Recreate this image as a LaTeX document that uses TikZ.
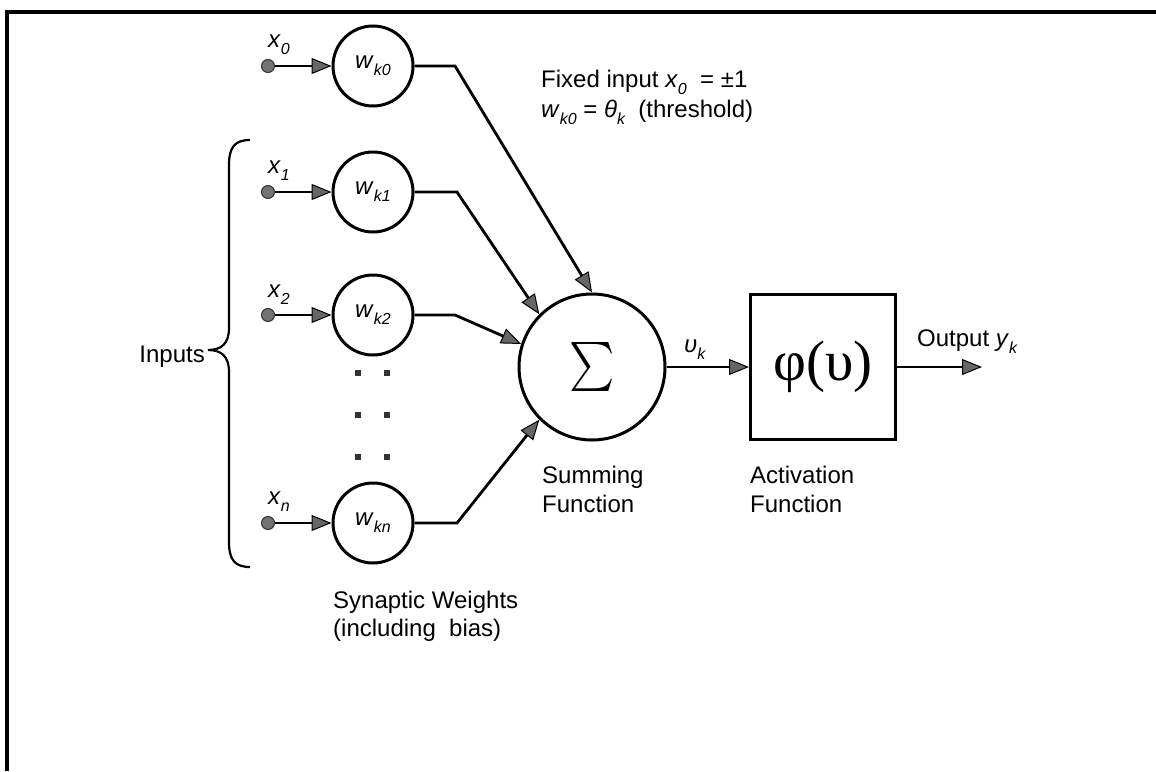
\documentclass[tikz,border=0pt]{standalone}
\usepackage{fontspec}
\setmainfont{Liberation Sans}
\newfontfamily\grserif{Liberation Serif}
\usetikzlibrary{arrows.meta}
\newcommand\sbs[1]{\raisebox{-0.3em}{\fontsize{16}{16}\selectfont\itshape #1}}
\tikzset{
  wnode/.style={circle,draw,line width=3pt,minimum size=80pt,inner sep=0pt,font=\fontsize{24}{28}\selectfont},
  sumnode/.style={circle,draw,line width=3pt,minimum size=146pt,inner sep=0pt},
  actnode/.style={rectangle,draw,line width=3pt,minimum size=145pt,inner sep=0pt},
  indot/.style={circle,draw=black!80,fill=black!55,line width=1pt,minimum size=13pt,inner sep=0pt},
  sqdot/.style={rectangle,fill=black!80,minimum size=5.5pt,inner sep=0pt},
  conn/.style={line width=2.8pt},
  arr/.style={-{Triangle[length=20pt,width=16pt,fill=black!60,line width=1pt]}},
  lbl/.style={font=\fontsize{24}{28}\selectfont,inner sep=0pt},
}
\begin{document}
\begin{tikzpicture}[x=1pt,y=-1pt]
\useasboundingbox (0,0) rectangle (1156,771);
% frame
\draw[line width=3.5pt] (7,771) -- (7,12) -- (1156,12);

% weight nodes
\node[wnode] (w0) at (373,66)  {\textit{w}\sbs{k0}};
\node[wnode] (w1) at (373,192) {\textit{w}\sbs{k1}};
\node[wnode] (w2) at (373,315) {\textit{w}\sbs{k2}};
\node[wnode] (wn) at (373,523) {\textit{w}\sbs{kn}};

% input dots
\node[indot] (d0) at (268,66)  {};
\node[indot] (d1) at (268,192) {};
\node[indot] (d2) at (268,315) {};
\node[indot] (dn) at (268,523) {};

% input labels
\node[lbl,anchor=base west] (lx0) at (268,47)  {\textit{x}\sbs{0}};
\node[lbl,anchor=base west] (lx1) at (268,173) {\textit{x}\sbs{1}};
\node[lbl,anchor=base west] (lx2) at (268,297) {\textit{x}\sbs{2}};
\node[lbl,anchor=base west] (lxn) at (268,504) {\textit{x}\sbs{n}};

% input arrows
\draw[conn,arr] (d0) -- (w0);
\draw[conn,arr] (d1) -- (w1);
\draw[conn,arr] (d2) -- (w2);
\draw[conn,arr] (dn) -- (wn);

% vertical dots
\node[sqdot] (p11) at (358,373) {};
\node[sqdot] (p12) at (387,373) {};
\node[sqdot] (p21) at (358,415) {};
\node[sqdot] (p22) at (387,415) {};
\node[sqdot] (p31) at (358,457) {};
\node[sqdot] (p32) at (387,457) {};

% brace
\draw[line width=2.2pt] (250,140) .. controls (235,140) and (229,147) .. (229,165)
  -- (229,328) .. controls (229,344) and (221,350) .. (208,350)
  .. controls (221,350) and (229,356) .. (229,372)
  -- (229,542) .. controls (229,560) and (235,567) .. (250,567);
\node[lbl,anchor=base east] (inp) at (205,362) {Inputs};

% summing node
\node[sumnode] (s) at (592,367) {\scalebox{4.3}[4.9]{$\textstyle\sum$}};
\coordinate (b0) at (455,66);
\coordinate (b1) at (457,192);
\coordinate (b2) at (455,315);
\coordinate (bn) at (457,523);
\draw[conn,arr] (w0.east) -- (b0) -- (s.north);
\draw[conn,arr] (w1.east) -- (b1) -- (s.135);
\draw[conn,arr] (w2.east) -- (b2) -- (s.162);
\draw[conn,arr] (wn.east) -- (bn) -- (s.225);

% activation
\node[actnode] (a) at (823,367) {\grserif\fontsize{57}{57}\selectfont φ(υ)};
\draw[conn,arr] (s) -- (a);
\node[lbl,anchor=base west] (vk) at (684,352) {\textit{υ}\sbs{k}};
\coordinate (out) at (982,367);
\draw[conn,arr] (a) -- (out);
\node[lbl,anchor=base west] (outl) at (917,346) {Output \textit{y}\sbs{k}};

% text labels
\node[lbl,anchor=base west] (fx1) at (541,87) {Fixed input \textit{x}\sbs{0}\ \ = ±1};
\node[lbl,anchor=base west] (fx2) at (541,117) {\textit{w}\sbs{k0} = \textit{θ}\sbs{k}\ \ (threshold)};
\node[lbl,anchor=base west] (sf1) at (542,483) {Summing};
\node[lbl,anchor=base west] (sf2) at (542,512) {Function};
\node[lbl,anchor=base west] (af1) at (750,483) {Activation};
\node[lbl,anchor=base west] (af2) at (750,512) {Function};
\node[lbl,anchor=base west] (sw1) at (333,608) {Synaptic Weights};
\node[lbl,anchor=base west] (sw2) at (333,636) {(including\ \ bias)};
\end{tikzpicture}
\end{document}
